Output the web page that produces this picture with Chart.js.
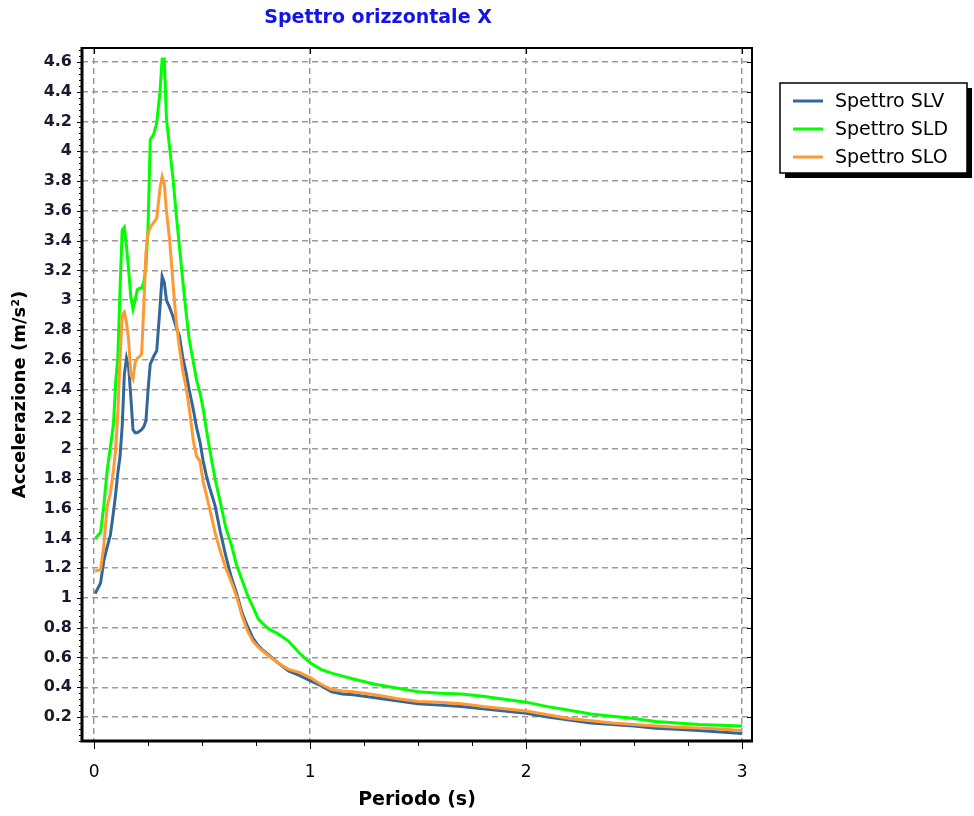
<!DOCTYPE html>
<html><head><meta charset="utf-8">
<script src="https://cdn.jsdelivr.net/npm/chart.js@4.4.1/dist/chart.umd.min.js"></script>
<style>html,body{margin:0;padding:0;background:#fff;}#wrap{width:974px;height:816px;}</style>
</head><body><div id="wrap"><canvas id="c" width="974" height="816"></canvas></div>
<script>
const TITLE = 'Spettro orizzontale X';
const X_TITLE = 'Periodo (s)';
const Y_TITLE = 'Accelerazione (m/s²)';
const SERIES_NAMES = ['Spettro SLV', 'Spettro SLD', 'Spettro SLO'];
const X_TICKS = [0, 1, 2, 3];
const Y_TICKS = [0.2,0.4,0.6,0.8,1,1.2,1.4,1.6,1.8,2,2.2,2.4,2.6,2.8,3,3.2,3.4,3.6,3.8,4,4.2,4.4,4.6];

const PERIODS = [0.005,0.03,0.045,0.06,0.075,0.09,0.1,0.11,0.12,0.13,0.14,0.15,0.16,0.17,0.18,0.19,0.2,0.21,0.22,0.23,0.24,0.25,0.26,0.275,0.29,0.305,0.315,0.325,0.335,0.35,0.365,0.38,0.395,0.41,0.425,0.44,0.46,0.475,0.49,0.505,0.52,0.535,0.56,0.585,0.61,0.635,0.66,0.685,0.71,0.735,0.76,0.78,0.81,0.85,0.9,0.95,1.0,1.05,1.1,1.15,1.2,1.3,1.4,1.5,1.6,1.7,1.8,1.9,2.0,2.1,2.2,2.3,2.4,2.5,2.6,2.7,2.8,2.9,3.0];

const SLV = [1.03,1.10,1.25,1.34,1.42,1.58,1.70,1.84,1.95,2.15,2.50,2.61,2.55,2.35,2.13,2.11,2.11,2.12,2.13,2.15,2.19,2.40,2.57,2.62,2.66,2.95,3.16,3.12,3.00,2.95,2.89,2.82,2.76,2.62,2.52,2.40,2.26,2.14,2.05,1.92,1.82,1.74,1.62,1.44,1.28,1.14,1.03,0.90,0.81,0.73,0.68,0.65,0.615,0.565,0.51,0.48,0.445,0.41,0.37,0.355,0.35,0.33,0.31,0.29,0.28,0.27,0.255,0.24,0.225,0.20,0.18,0.16,0.15,0.14,0.125,0.118,0.11,0.10,0.09];

const SLD = [1.40,1.44,1.62,1.85,2.01,2.17,2.45,2.62,3.07,3.47,3.49,3.36,3.20,3.02,2.94,3.00,3.07,3.08,3.08,3.12,3.22,3.50,4.08,4.11,4.19,4.40,4.62,4.62,4.22,4.02,3.82,3.58,3.36,3.14,2.93,2.74,2.58,2.46,2.38,2.27,2.13,2.00,1.80,1.64,1.47,1.36,1.22,1.12,1.02,0.94,0.86,0.83,0.79,0.76,0.71,0.63,0.565,0.52,0.495,0.475,0.455,0.42,0.395,0.37,0.36,0.355,0.34,0.32,0.30,0.27,0.245,0.22,0.205,0.19,0.17,0.16,0.15,0.145,0.14];

const SLO = [1.18,1.19,1.35,1.61,1.70,1.86,2.00,2.25,2.60,2.90,2.92,2.85,2.73,2.50,2.47,2.58,2.61,2.62,2.64,2.95,3.32,3.45,3.49,3.52,3.55,3.75,3.83,3.78,3.60,3.40,3.12,2.86,2.68,2.53,2.42,2.28,2.05,1.95,1.92,1.78,1.69,1.60,1.44,1.31,1.20,1.11,1.01,0.88,0.78,0.71,0.67,0.645,0.61,0.565,0.52,0.50,0.465,0.42,0.385,0.375,0.37,0.35,0.325,0.305,0.30,0.29,0.27,0.255,0.24,0.215,0.19,0.175,0.16,0.15,0.14,0.132,0.126,0.12,0.11];

const COLORS = ['#336699', '#00ff00', '#ff9933'];
const SERIES = [SLV, SLD, SLO];
const DRAW_ORDER = [2, 1, 0];

const FONT = 'DejaVu Sans';

const framePlugin = {
  id: 'frame',
  afterDatasetsDraw(chart) {
    const ctx = chart.ctx, a = chart.chartArea;
    const xs = chart.scales.x, ys = chart.scales.y;
    ctx.save();
    ctx.strokeStyle = '#000';
    // frame
    ctx.lineWidth = 2;
    ctx.beginPath();
    ctx.moveTo(a.left, a.top); ctx.lineTo(a.right, a.top); ctx.lineTo(a.right, a.bottom);
    ctx.stroke();
    ctx.lineWidth = 3;
    ctx.beginPath();
    ctx.moveTo(a.left, a.top - 1); ctx.lineTo(a.left, a.bottom); ctx.lineTo(a.right + 1, a.bottom);
    ctx.stroke();
    ctx.lineWidth = 1;
    ctx.beginPath();
    // x ticks
    X_TICKS.forEach(v => {
      const px = Math.round(xs.getPixelForValue(v)) + 0.5;
      ctx.moveTo(px, a.bottom); ctx.lineTo(px, a.bottom + 8);
      ctx.moveTo(px, a.top); ctx.lineTo(px, a.top + 6);
    });
    for (let v = 0.25; v < 3; v += 0.25) {
      if (Math.abs(v - Math.round(v)) < 1e-6) continue;
      const px = Math.round(xs.getPixelForValue(v)) + 0.5;
      ctx.moveTo(px, a.bottom); ctx.lineTo(px, a.bottom + 5);
    }
    // y ticks
    Y_TICKS.forEach(v => {
      const py = Math.round(ys.getPixelForValue(v)) + 0.5;
      ctx.moveTo(a.left - 5, py); ctx.lineTo(a.left, py);
      ctx.moveTo(a.right - 5, py); ctx.lineTo(a.right, py);
    });
    for (let v = 0.04; v < 4.69; v += 0.04) {
      const py = Math.round(ys.getPixelForValue(v)) + 0.5;
      ctx.moveTo(a.left - 3, py); ctx.lineTo(a.left, py);
    }
    ctx.stroke();
    ctx.restore();
  },
  afterDraw(chart) {
    const ctx = chart.ctx, a = chart.chartArea;
    ctx.save();
    // title
    ctx.fillStyle = '#1414e6';
    ctx.font = 'bold 19px "' + FONT + '"';
    ctx.textAlign = 'center';
    ctx.textBaseline = 'middle';
    ctx.fillText(TITLE, 378, 18);
    // legend
    const bx = 780, by = 83, bw = 187, bh = 90;
    ctx.fillStyle = '#000';
    ctx.fillRect(bx + 5, by + 5, bw, bh);
    ctx.fillStyle = '#fff';
    ctx.fillRect(bx, by, bw, bh);
    ctx.strokeStyle = '#000';
    ctx.lineWidth = 1.5;
    ctx.strokeRect(bx, by, bw, bh);
    ctx.font = '19px "' + FONT + '"';
    ctx.textAlign = 'left';
    chart.data.datasets.forEach((ds, i) => {
      const y = by + 18 + i * 28;
      ctx.strokeStyle = ds.borderColor;
      ctx.lineWidth = 3;
      ctx.beginPath(); ctx.moveTo(bx + 13, y); ctx.lineTo(bx + 43, y); ctx.stroke();
      ctx.fillStyle = '#000';
      ctx.fillText(ds.label, bx + 55, y + 1);
    });
    ctx.restore();
  }
};

const datasets = SERIES.map((arr, i) => ({
  label: SERIES_NAMES[i],
  data: PERIODS.map((x, k) => ({ x: x, y: arr[k] })),
  borderColor: COLORS[i],
  backgroundColor: COLORS[i],
  borderWidth: 3,
  pointRadius: 0,
  tension: 0,
  fill: false,
  order: DRAW_ORDER[i]
}));

const fmt = v => String(Math.round(v * 10) / 10);

new Chart(document.getElementById('c'), {
  type: 'line',
  data: { datasets: datasets },
  plugins: [framePlugin],
  options: {
    responsive: false,
    animation: false,
    devicePixelRatio: 1,
    layout: { padding: { top: 48, right: 222, bottom: 0, left: 0 } },
    plugins: { legend: { display: false }, title: { display: false }, tooltip: { enabled: false } },
    scales: {
      x: {
        type: 'linear',
        min: -0.056, max: 3.046,
        afterBuildTicks: s => { s.ticks = X_TICKS.map(v => ({ value: v })); },
        afterFit: s => { s.height = 75; },
        grid: { color: '#999', lineWidth: 1.5, drawTicks: false },
        border: { display: false, dash: [6, 4] },
        ticks: { padding: 21, color: '#000', maxRotation: 0, autoSkip: false, callback: fmt,
                 font: { family: FONT, size: 17 } },
        title: { display: true, text: X_TITLE, color: '#000', padding: { top: 0, bottom: 5 },
                 font: { family: FONT, size: 19, weight: 'bold' } }
      },
      y: {
        type: 'linear',
        min: 0.039, max: 4.694,
        afterBuildTicks: s => { s.ticks = Y_TICKS.map(v => ({ value: v })); },
        afterFit: s => { s.width = 82; },
        grid: { color: '#999', lineWidth: 1.5, drawTicks: false },
        border: { display: false, dash: [6, 4] },
        ticks: { padding: 10, color: '#1a1a2e', autoSkip: false, callback: fmt,
                 font: { family: FONT, size: 16, weight: 'bold' } },
        title: { display: true, text: Y_TITLE, color: '#000', padding: { top: 10, bottom: 0 },
                 font: { family: FONT, size: 18, weight: 'bold' } }
      }
    }
  }
});
</script>
</body></html>
